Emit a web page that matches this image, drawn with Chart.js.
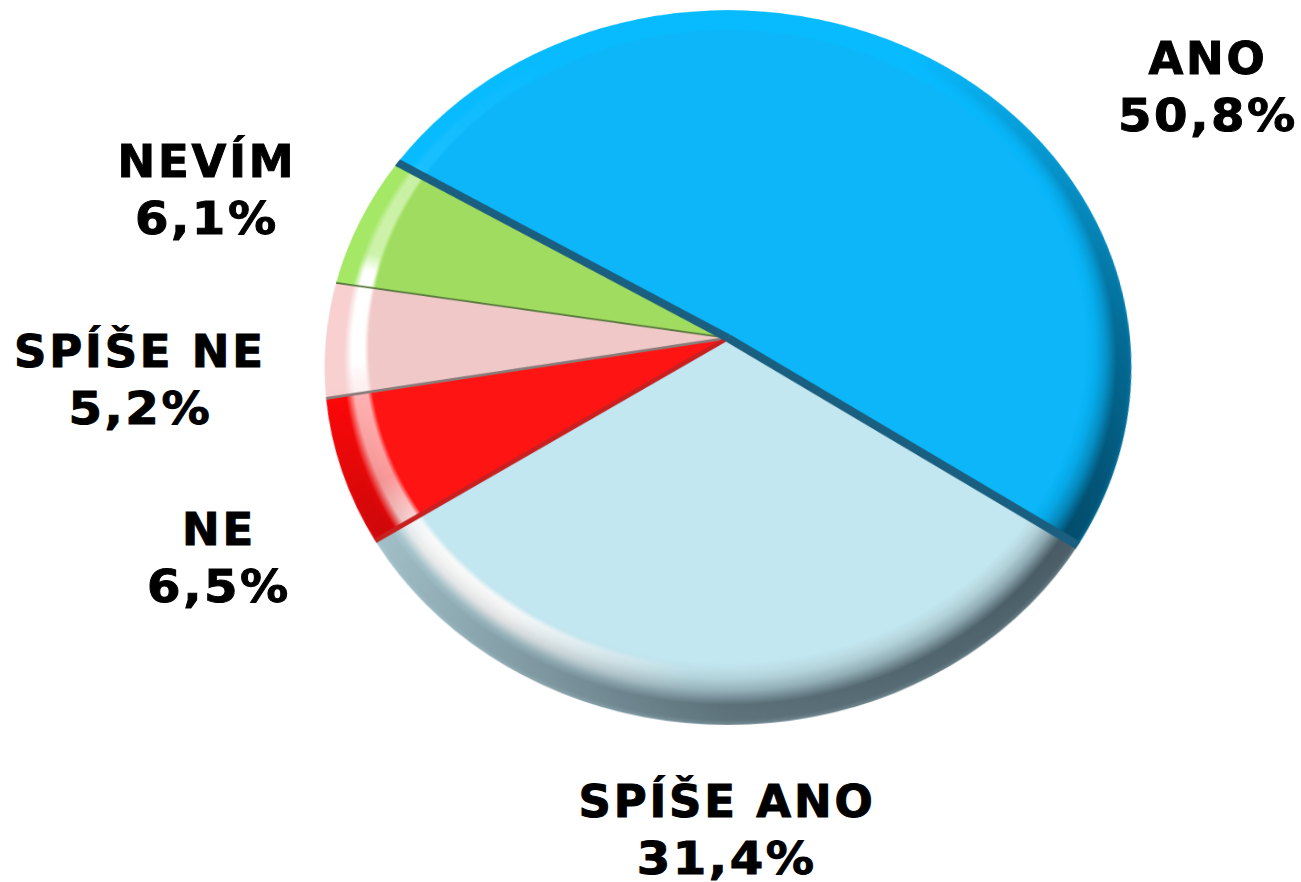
<!DOCTYPE html>
<html><head><meta charset="utf-8">
<script src="https://cdn.jsdelivr.net/npm/chart.js@4"></script>
<style>
html,body{margin:0;padding:0;background:#fff;overflow:hidden}
#stage{position:relative;width:1301px;height:882px;overflow:hidden}
canvas{position:absolute;display:block}
.lab{position:absolute;font:bold 45px "DejaVu Sans",Verdana,sans-serif;line-height:57px;text-align:center;color:#000;transform:translateX(-50%);white-space:nowrap;-webkit-text-stroke:1px #000}
.n{letter-spacing:2.8px}.p{display:inline-block;letter-spacing:2.4px;transform:scaleX(1.07)}
</style></head><body>
<div id="stage">
<canvas id="pie"></canvas>
<div id="labels"></div>
</div>
<script>
const categories = ["ANO","SPÍŠE ANO","NE","SPÍŠE NE","NEVÍM"];
const percents = [50.8,31.4,6.5,5.2,6.1];
const percentText = ["50,8%","31,4%","6,5%","5,2%","6,1%"];
const faceColors = ["#0DB6F8","#C2E7F1","#FF1414","#F0C8C8","#A0DC60"];
const rimOuter = ["#08BBFF","#C8EAF2","#FF0808","#F8D0D0","#A4E866"];
const dividerColors = ["#1A5F80","#1A5F80","#C82020","#8A7C7A","#5A7A40"];
const dividerWidths = [9,9,5,3,2];
const labelCenters = [[1208,30],[727,773],[219,501],[140,323],[207,133]];
const darkRadial = [[0,0],[.25,.12],[.45,.3],[.68,.64],[.92,.62],[1,.5]];
const darkAngular = [[0,0],[30,0],[90,.72],[125,1],[180,.85],[215,.5],[240,.28],[262,0],[360,0]];
const lightRadial = [[.03,0],[.13,1],[.4,1],[.58,0]];
const lightAngular = [[0,0],[185,0],[215,1],[232,1],[245,.6],[262,.7],[266,1],[282,1],[285,.45],[300,.4],[302,.07],[330,0],[360,0]];

const R=402, size=808, cx=728, cy=338, rot=-59, inset=358, lift=16;
const c=document.getElementById("pie");
c.width=size;c.height=size;
c.style.left=(cx-size/2)+"px";c.style.top=(cy-size/2)+"px";
c.style.transform="perspective(2283px) rotateX(28deg)";

function rimGradient(ctx){
  const m=size/2;
  return ctx.createRadialGradient(m,m-lift,inset,m,m,R);
}
function faceGrad(ctx,i){
  const g=rimGradient(ctx);
  g.addColorStop(0,faceColors[i]);
  g.addColorStop(0.14,rimOuter[i]);
  g.addColorStop(1,rimOuter[i]);
  return g;
}
function layer(rgb,radial,angular){
  const m=size/2,o=document.createElement("canvas");
  o.width=o.height=size;
  const x=o.getContext("2d");
  const r=rimGradient(x);
  radial.forEach(s=>r.addColorStop(s[0],"rgba("+rgb+","+s[1]+")"));
  x.fillStyle=r;x.beginPath();x.arc(m,m,R,0,7);x.fill();
  x.globalCompositeOperation="destination-in";
  const a=x.createConicGradient(-Math.PI/2,m,m);
  angular.forEach(s=>a.addColorStop(s[0]/360,"rgba(0,0,0,"+s[1]+")"));
  x.fillStyle=a;x.fillRect(0,0,size,size);
  return o;
}
const shade={id:"shade",afterDatasetsDraw(ch){
  const ctx=ch.ctx;
  ctx.drawImage(layer("255,255,255",lightRadial,lightAngular),0,0);
  ctx.drawImage(layer("0,10,20",darkRadial,darkAngular),0,0);
  const arcs=ch.getDatasetMeta(0).data;
  const ends=[arcs[0].startAngle,arcs[0].endAngle,arcs[1].endAngle,arcs[2].endAngle,arcs[3].endAngle];
  ctx.save();ctx.lineCap="butt";
  [4,3,2,0,1].forEach(i=>{
    ctx.strokeStyle=dividerColors[i];ctx.lineWidth=dividerWidths[i];
    ctx.beginPath();ctx.moveTo(arcs[0].x,arcs[0].y);
    ctx.lineTo(arcs[0].x+R*Math.cos(ends[i]),arcs[0].y+R*Math.sin(ends[i]));
    ctx.stroke();
  });
  ctx.restore();
}};
new Chart(c,{type:"pie",data:{labels:categories,datasets:[{data:percents,borderWidth:0,
  backgroundColor:k=>faceGrad(k.chart.ctx,k.dataIndex)}]},
  options:{responsive:false,animation:false,devicePixelRatio:1,rotation:rot,
    layout:{padding:2},plugins:{legend:{display:false},tooltip:{enabled:false}}},
  plugins:[shade]});
const host=document.getElementById("labels");
categories.forEach((n,i)=>{
  const d=document.createElement("div");d.className="lab";
  d.style.left=labelCenters[i][0]+"px";d.style.top=labelCenters[i][1]+"px";
  d.innerHTML='<span class="n">'+n+'</span><br><span class="p">'+percentText[i]+'</span>';
  host.appendChild(d);
});
</script></body></html>
